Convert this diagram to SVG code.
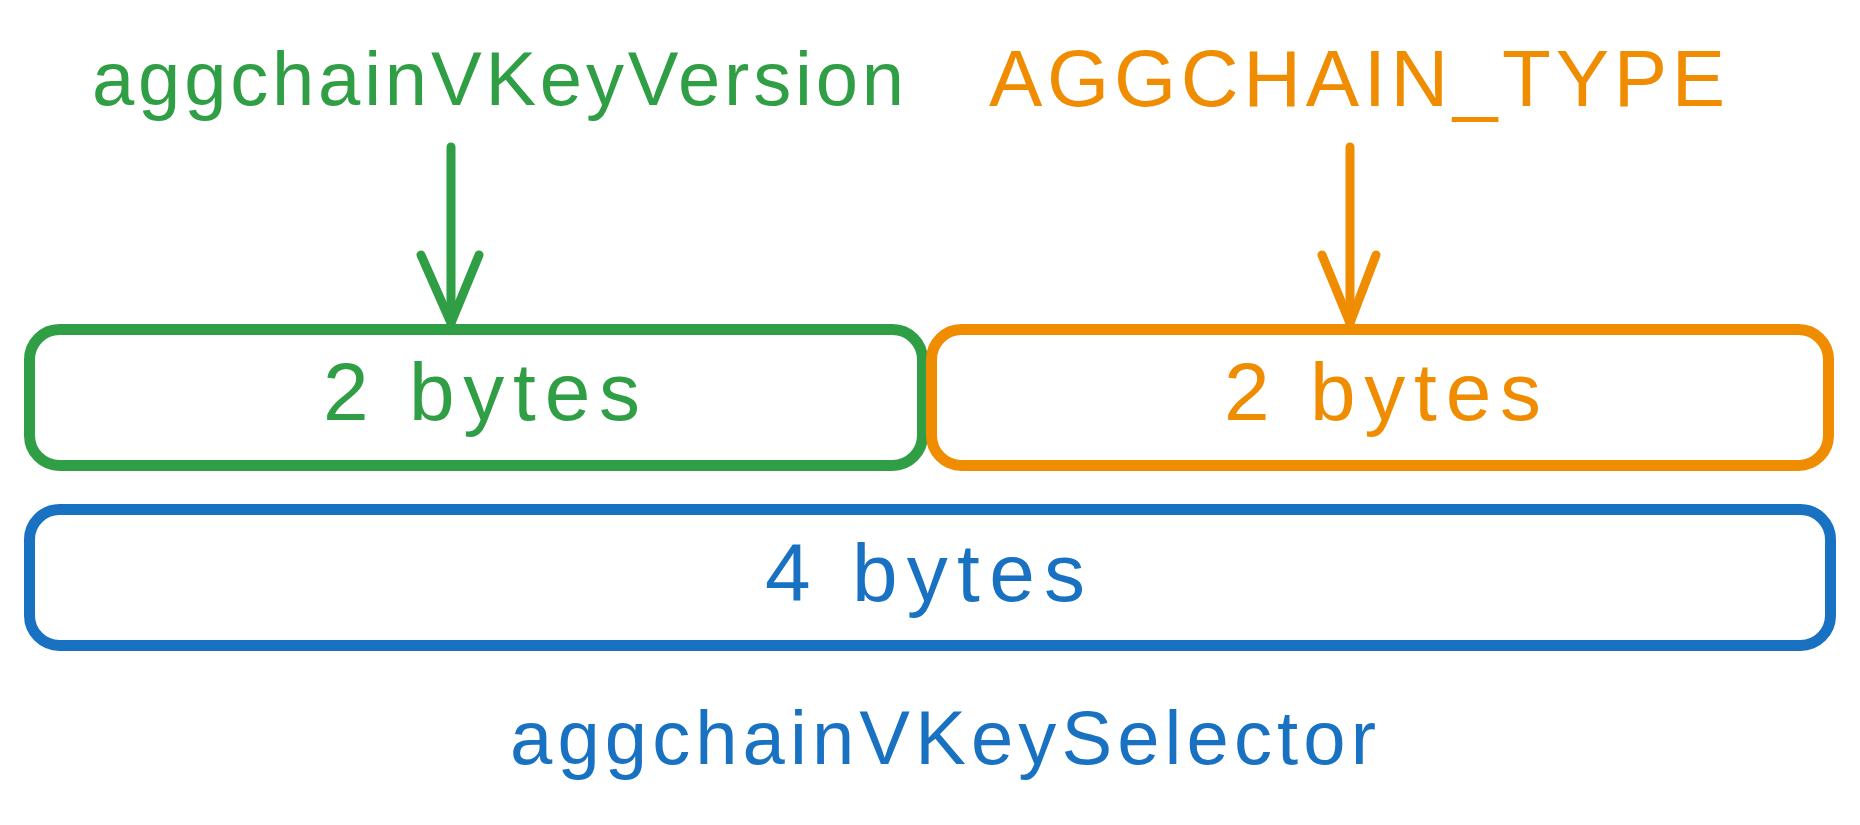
<svg xmlns="http://www.w3.org/2000/svg" width="1860" height="825" viewBox="0 0 1860 825">
  <style>
    text { font-family: "Liberation Sans", Arial, sans-serif; }
    .box { fill: #ffffff; stroke-width: 11; }
    .g { fill: #2f9e44; }
    .o { fill: #f08c00; }
    .b { fill: #1971c2; }
    .lbl { font-size: 82px; text-anchor: middle; }
    .title { font-size: 76px; text-anchor: middle; }
    .arrow { fill: none; stroke-width: 9; stroke-linecap: round; stroke-linejoin: round; }
  </style>
  <rect width="1860" height="825" fill="#ffffff"/>

  <g id="node-version-bytes">
    <rect class="box" x="29.5" y="329.5" width="893" height="136" rx="30" stroke="#2f9e44"/>
    <text class="lbl g" x="481.5" y="420" textLength="317" lengthAdjust="spacing">2 bytes</text>
  </g>

  <g id="node-type-bytes">
    <rect class="box" x="931.5" y="329.5" width="897" height="136" rx="30" stroke="#f08c00"/>
    <text class="lbl o" x="1382.5" y="420" textLength="317" lengthAdjust="spacing">2 bytes</text>
  </g>

  <g id="node-selector-bytes">
    <rect class="box" x="29.5" y="509.5" width="1801" height="136" rx="30" stroke="#1971c2"/>
    <text class="lbl b" x="925" y="601" textLength="320" lengthAdjust="spacing">4 bytes</text>
  </g>

  <g id="label-version">
    <text class="title g" x="498" y="105" textLength="812" lengthAdjust="spacing">aggchainVKeyVersion</text>
  </g>

  <g id="label-type">
    <text class="title o" x="1357" y="106" style="font-size:80px" textLength="736" lengthAdjust="spacing">AGGCHAIN_TYPE</text>
  </g>

  <g id="label-selector">
    <text class="title b" x="943" y="764" textLength="866" lengthAdjust="spacing">aggchainVKeySelector</text>
  </g>

  <g id="connectors">
    <path class="arrow" stroke="#2f9e44" d="M451 147 L451 322"/>
    <path class="arrow" stroke="#2f9e44" d="M421 255 L451 323 L479 255"/>
    <path class="arrow" stroke="#f08c00" d="M1350 147 L1350 322"/>
    <path class="arrow" stroke="#f08c00" d="M1322 255 L1350 323 L1376 255"/>
  </g>
</svg>
